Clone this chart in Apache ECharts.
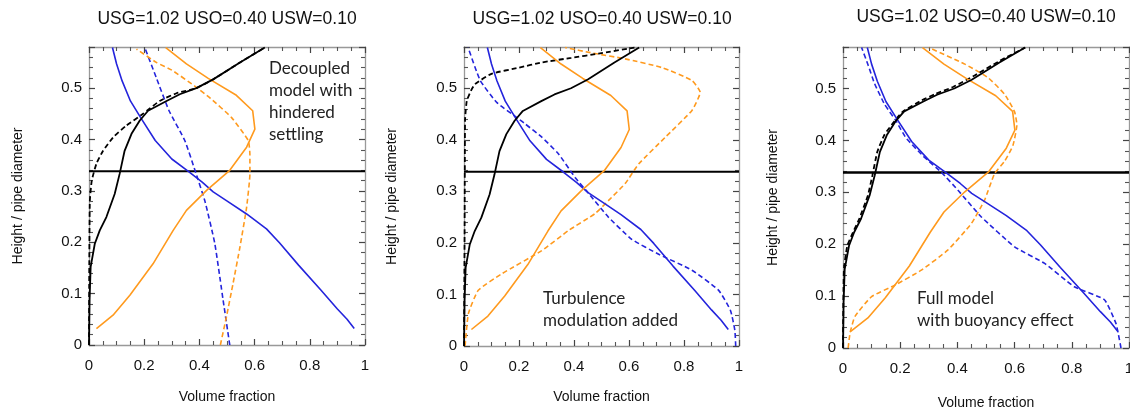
<!DOCTYPE html>
<html>
<head>
<meta charset="utf-8">
<script src="https://cdn.jsdelivr.net/npm/echarts@6/dist/echarts.min.js"></script>
<style>
  html, body { margin: 0; padding: 0; background: #fff; }
  #chart { width: 1130px; height: 416px; }
</style>
</head>
<body>
<div id="chart"></div>
<script>
// points are [volume fraction, height / pipe diameter]
const titleText = 'USG=1.02 USO=0.40 USW=0.10';
const interfaceHeight = 0.338;
const xTicks = { min: 0, max: 1, interval: 0.2 };
const yTicks = { min: 0, max: 0.58, interval: 0.1 };

// solid curves, same in every panel
const refGas = [[0,0],[0.002,0.087],[0.006,0.152],[0.021,0.197],[0.039,0.223],[0.063,0.249],[0.093,0.294],[0.111,0.333],[0.129,0.378],[0.154,0.411],[0.184,0.437],[0.214,0.456],[0.281,0.475],[0.329,0.488],[0.389,0.5],[0.45,0.517],[0.547,0.55],[0.637,0.579]];
const refWater = [[0.961,0.032],[0.935,0.05],[0.9,0.07],[0.84,0.107],[0.76,0.155],[0.69,0.199],[0.643,0.226],[0.571,0.255],[0.498,0.281],[0.45,0.298],[0.41,0.317],[0.36,0.338],[0.3,0.362],[0.24,0.398],[0.19,0.44],[0.15,0.475],[0.12,0.514],[0.1,0.547],[0.085,0.579]];
const refOil = [[0.027,0.032],[0.087,0.058],[0.148,0.097],[0.232,0.158],[0.305,0.223],[0.353,0.262],[0.426,0.301],[0.51,0.34],[0.571,0.385],[0.601,0.42],[0.593,0.456],[0.534,0.486],[0.432,0.519],[0.353,0.547],[0.278,0.579]];

// dashed curves, panel 1: decoupled model with hindered settling
const decGas = [[0,0],[0.001,0.15],[0.003,0.28],[0.01,0.32],[0.027,0.353],[0.051,0.378],[0.087,0.404],[0.135,0.427],[0.196,0.45],[0.256,0.475],[0.317,0.49],[0.389,0.5],[0.45,0.517],[0.547,0.55],[0.637,0.579]];
const decWater = [[0.51,0],[0.486,0.087],[0.456,0.197],[0.42,0.28],[0.384,0.34],[0.347,0.398],[0.29,0.456],[0.244,0.52],[0.202,0.579]];
const decOil = [[0.476,0],[0.498,0.055],[0.522,0.12],[0.547,0.191],[0.571,0.268],[0.583,0.333],[0.583,0.37],[0.577,0.398],[0.516,0.443],[0.44,0.48],[0.383,0.504],[0.3,0.535],[0.244,0.55],[0.172,0.576]];

// dashed curves, panel 2: turbulence modulation added
const turbGas = [[0,0],[0.002,0.2],[0.003,0.35],[0.004,0.44],[0.01,0.475],[0.025,0.495],[0.04,0.508],[0.1,0.528],[0.2,0.54],[0.283,0.55],[0.39,0.559],[0.489,0.567],[0.62,0.579]];
const turbWater = [[0.988,0],[0.985,0.03],[0.969,0.069],[0.926,0.108],[0.829,0.147],[0.708,0.178],[0.61,0.207],[0.525,0.25],[0.447,0.3],[0.404,0.327],[0.343,0.373],[0.283,0.405],[0.222,0.431],[0.2,0.44],[0.12,0.472],[0.059,0.515],[0.015,0.579]];
const turbOil = [[0.004,0],[0.016,0.063],[0.052,0.108],[0.137,0.14],[0.283,0.185],[0.38,0.224],[0.477,0.257],[0.525,0.282],[0.586,0.315],[0.635,0.353],[0.732,0.405],[0.829,0.457],[0.859,0.492],[0.829,0.515],[0.72,0.54],[0.586,0.557],[0.47,0.568],[0.368,0.579]];

// dashed curves, panel 3: full model with buoyancy effect
const fullGas = [[0,0],[0.003,0.15],[0.015,0.197],[0.035,0.223],[0.057,0.249],[0.087,0.294],[0.103,0.333],[0.12,0.378],[0.145,0.411],[0.18,0.437],[0.21,0.456],[0.275,0.477],[0.325,0.49],[0.385,0.503],[0.46,0.525],[0.547,0.553],[0.637,0.579]];
const fullWater = [[0.972,0],[0.962,0.029],[0.954,0.048],[0.914,0.093],[0.809,0.118],[0.705,0.163],[0.6,0.195],[0.483,0.253],[0.402,0.304],[0.345,0.338],[0.28,0.37],[0.22,0.405],[0.185,0.438],[0.145,0.47],[0.11,0.51],[0.088,0.545],[0.065,0.579]];
const fullOil = [[0.018,0],[0.025,0.03],[0.042,0.061],[0.1,0.099],[0.181,0.121],[0.274,0.15],[0.367,0.189],[0.449,0.24],[0.495,0.285],[0.53,0.336],[0.565,0.36],[0.594,0.39],[0.608,0.43],[0.6,0.455],[0.565,0.489],[0.507,0.521],[0.426,0.547],[0.3,0.579]];

const panels = [
  { grid: { left: 89, top: 47, width: 276, height: 298 }, titleX: 227, titleY: 19, xGap: 45, yGap: 64,
    dashed: [decGas, decWater, decOil],
    note: ['Decoupled', 'model with', 'hindered', 'settling'], noteX: 269, noteY: 69 },
  { grid: { left: 464, top: 47, width: 275, height: 299 }, titleX: 602, titleY: 19, xGap: 44, yGap: 65,
    dashed: [turbGas, turbWater, turbOil],
    note: ['Turbulence', 'modulation added'], noteX: 543, noteY: 299 },
  { grid: { left: 843, top: 47, width: 286, height: 301 }, titleX: 986, titleY: 17, xGap: 48, yGap: 63,
    dashed: [fullGas, fullWater, fullOil],
    note: ['Full model', 'with buoyancy effect'], noteX: 917, noteY: 299 }
];

const colors = { gas: '#000000', water: '#2424dc', oil: '#ff9a1e' };
const frame = '#999999';
const labelFont = 'Liberation Sans, Arial, sans-serif';

const grids = [], xAxes = [], yAxes = [], series = [], graphics = [];

function axisCommon(show, split) {
  return {
    axisLine: { show: true, onZero: false, lineStyle: { color: frame, width: 1.3 } },
    axisTick: { show: true, inside: true, length: 6, lineStyle: { color: '#444', width: 1.2 } },
    minorTick: { show: true, splitNumber: split, length: 4, lineStyle: { color: '#555', width: 1.1 } },
    splitLine: { show: false },
    axisLabel: { show: show, color: '#111', fontSize: 15, fontFamily: labelFont }
  };
}

panels.forEach((p, i) => {
  grids.push(Object.assign({ containLabel: false, outerBoundsMode: 'none' }, p.grid));

  const xb = axisCommon(true, 4);
  xb.axisLabel.margin = 13;
  xAxes.push(Object.assign(xb, {
    type: 'value', gridIndex: i, position: 'bottom', min: xTicks.min, max: xTicks.max, interval: xTicks.interval,
    name: 'Volume fraction', nameLocation: 'middle', nameGap: p.xGap,
    nameTextStyle: { fontSize: 14, color: '#111', fontFamily: labelFont }
  }));
  xAxes.push(Object.assign(axisCommon(false, 4), {
    type: 'value', gridIndex: i, position: 'top', min: xTicks.min, max: xTicks.max, interval: xTicks.interval
  }));

  const yl = axisCommon(true, 5);
  yl.axisLabel.margin = 7;
  yl.axisLabel.showMaxLabel = false;
  yAxes.push(Object.assign(yl, {
    type: 'value', gridIndex: i, position: 'left', min: yTicks.min, max: yTicks.max, interval: yTicks.interval,
    name: 'Height / pipe diameter', nameLocation: 'middle', nameGap: p.yGap,
    nameTextStyle: { fontSize: 14, color: '#111', fontFamily: labelFont }
  }));
  yAxes.push(Object.assign(axisCommon(false, 5), {
    type: 'value', gridIndex: i, position: 'right', min: yTicks.min, max: yTicks.max, interval: yTicks.interval
  }));

  const xi = i * 2, yi = i * 2;
  const line = (data, color, dashed, width) => ({
    type: 'line', xAxisIndex: xi, yAxisIndex: yi, data: data,
    showSymbol: false, symbol: 'none', smooth: dashed ? 0.15 : false, silent: true,
    lineStyle: { color: color, width: width, type: dashed ? [5, 3] : 'solid' }
  });

  series.push(line([[xTicks.min, interfaceHeight], [xTicks.max, interfaceHeight]], '#000', false, i === 2 ? 2.5 : 2));
  series.push(line(p.dashed[1], colors.water, true, 1.6));
  series.push(line(p.dashed[2], colors.oil, true, 1.6));
  series.push(line(p.dashed[0], colors.gas, true, 1.8));
  series.push(line(refWater, colors.water, false, 1.6));
  series.push(line(refOil, colors.oil, false, 1.6));
  series.push(line(refGas, colors.gas, false, 1.8));

  graphics.push({
    type: 'text', x: p.titleX, y: p.titleY,
    style: { text: titleText, font: '17.5px ' + labelFont, fill: '#111', align: 'center', verticalAlign: 'middle' }
  });
  p.note.forEach((t, k) => {
    graphics.push({
      type: 'text', x: p.noteX, y: p.noteY + k * 21.7,
      style: { text: t, font: '17px Lato, sans-serif', fill: '#222', align: 'left', verticalAlign: 'middle' }
    });
  });
});

const chart = echarts.init(document.getElementById('chart'), null, { renderer: 'canvas' });
chart.setOption({
  animation: false,
  backgroundColor: '#fff',
  grid: grids,
  xAxis: xAxes,
  yAxis: yAxes,
  series: series,
  graphic: graphics
});
</script>
</body>
</html>
